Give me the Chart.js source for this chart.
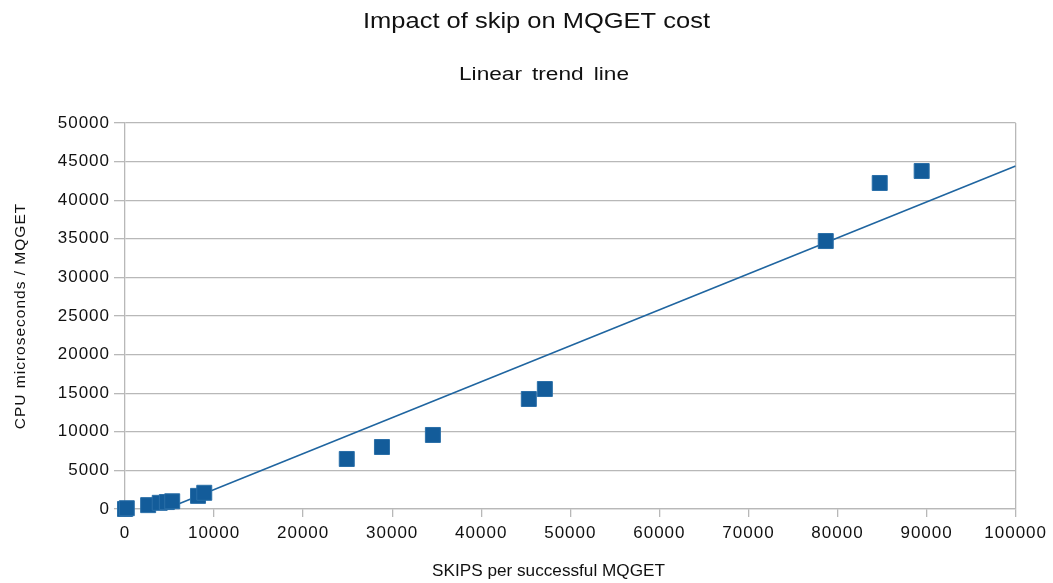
<!DOCTYPE html>
<html><head><meta charset="utf-8">
<script src="https://cdn.jsdelivr.net/npm/chart.js@4"></script>
<style>html,body{margin:0;padding:0;background:#fff}#wrap{width:1053px;height:583px}</style>
</head><body><div id="wrap"><canvas id="c" width="1053" height="583"></canvas></div>
<script>
const skips = [0, 200, 2600, 3900, 4700, 5300, 8200, 8900, 24900, 28850, 34570, 45340, 47140, 78680, 84740, 89450];
const cpu   = [0, 100, 500, 800, 900, 1000, 1700, 2100, 6480, 8030, 9590, 14250, 15540, 34710, 42230, 43780];
const trendX = [4600, 100000];
const trendY = [0, 44430];
const chartTitle = 'Impact of skip on MQGET cost';
const chartSubtitle = 'Linear trend line';
const xTitle = 'SKIPS per successful MQGET';
const yTitle = 'CPU microseconds / MQGET';

const pts = skips.map((x,i)=>({x, y: cpu[i]}));
const trend = trendX.map((x,i)=>({x, y: trendY[i]}));
const font = 'Liberation Sans, Arial, sans-serif';
const gridGray = '#b8b8b8';

function stretchedText(ctx, text, size, cx, baseline, targetW, wordSp) {
  ctx.save();
  ctx.font = size + 'px ' + font;
  ctx.letterSpacing = '0px';
  ctx.wordSpacing = (wordSp||0) + 'px';
  ctx.fillStyle = '#111';
  ctx.textAlign = 'left';
  ctx.textBaseline = 'alphabetic';
  const w = ctx.measureText(text).width;
  const sx = targetW / w;
  ctx.translate(cx - targetW/2, baseline);
  ctx.scale(sx, 1);
  ctx.fillText(text, 0, 0);
  ctx.restore();
}

const titlesPlugin = {
  id: 'titles',
  beforeUpdate(chart) { chart.ctx.letterSpacing = '1px'; },
  beforeDraw(chart) { chart.ctx.letterSpacing = '1px'; },
  afterDraw(chart) {
    const ctx = chart.ctx;
    stretchedText(ctx, chartTitle, 22.5, 536.5, 28, 347, 0);
    stretchedText(ctx, chartSubtitle, 18, 544, 79.5, 170, 3);
    stretchedText(ctx, xTitle, 16.5, 548.5, 576, 233, 0);
  }
};

new Chart(document.getElementById('c'), {
  type: 'scatter',
  plugins: [titlesPlugin],
  data: { datasets: [
    { label: 'Trend', type: 'line', data: trend, borderColor: '#1f65a0', borderWidth: 1.6, pointRadius: 0, fill: false, order: 2 },
    { label: 'CPU', data: pts, pointStyle: 'rect', pointRadius: 10.6, pointHoverRadius: 10.6, clip: false,
      backgroundColor: '#135c9a', borderColor: '#2a6fa8', borderWidth: 1, order: 1 }
  ]},
  options: {
    responsive: false, animation: false,
    layout: { padding: { left: 0, right: 37, top: 123, bottom: 0 } },
    plugins: { legend: { display: false }, tooltip: { enabled: false }, title: { display: false } },
    scales: {
      x: { type: 'linear', min: 0, max: 100000,
        ticks: { stepSize: 10000, color: '#111', font: { family: font, size: 17 }, padding: 6, maxRotation: 0,
          callback: (v)=> String(v) },
        grid: { color: (c)=> (c.index === 10 ? gridGray : 'rgba(0,0,0,0)'), tickColor: gridGray, tickLength: 8, lineWidth: 1.3 },
        border: { color: gridGray, width: 1.3 },
        title: { display: false },
        afterFit: (s)=>{ s.height = 74; }
      },
      y: { type: 'linear', min: 0, max: 50000,
        ticks: { stepSize: 5000, color: '#111', font: { family: font, size: 17 }, padding: 4, callback: (v)=> String(v) },
        grid: { color: gridGray, tickColor: gridGray, tickLength: 11, lineWidth: 1.3 },
        border: { color: gridGray, width: 1.3 },
        title: { display: true, text: yTitle, color: '#111', font: { family: font, size: 15.5 }, padding: { top: 11, bottom: 0 } },
        afterFit: (s)=>{ s.width = 125; }
      }
    }
  }
});
</script></body></html>
